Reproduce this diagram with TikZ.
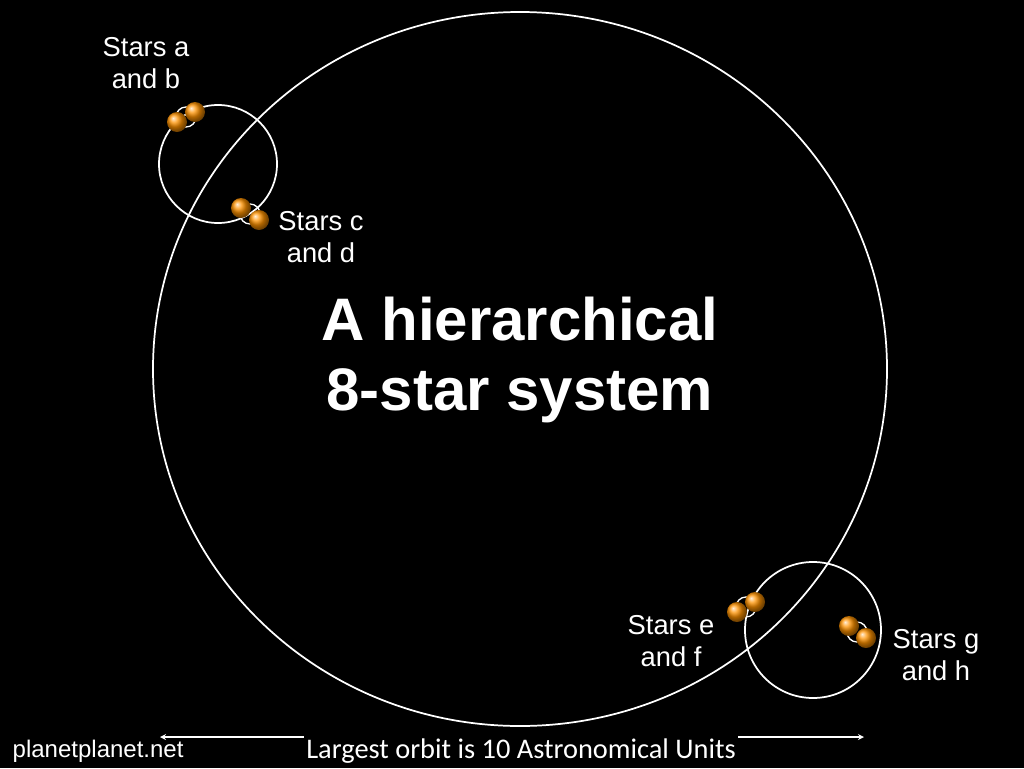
\documentclass[tikz,border=0pt]{standalone}
\usepackage{fontspec}
\setmainfont{Liberation Sans}
\newfontfamily\gillfont{Carlito}
\begin{document}
\begin{tikzpicture}[x=0.75pt,y=-0.75pt,
  orbit/.style={draw=white,line width=1.3pt},
  star/.style={circle,minimum size=15pt,inner sep=0pt,ball color=orange,shading=ball},
  lbl/.style={text=white,align=center,font=\fontsize{20.5}{24}\selectfont}]
\fill[black] (0,0) rectangle (1024,768);
\useasboundingbox (0,0) rectangle (1024,768);
\colorlet{sunc}{orange!85!yellow}
\tikzset{star/.append style={ball color=sunc}}
\draw[orbit] (520,369) ellipse [x radius=367,y radius=357];
\draw[orbit] (218,164) circle [radius=59];
\draw[orbit] (813,630) circle [radius=68];
\draw[orbit,line width=1pt] (186,117) circle [radius=10];
\draw[orbit,line width=1pt] (250,214) circle [radius=10];
\draw[orbit,line width=1pt] (746,607) circle [radius=10];
\draw[orbit,line width=1pt] (857,632) circle [radius=10];
\node[star] (a) at (177,122) {};
\node[star] (b) at (195,112) {};
\node[star] (c) at (241,208) {};
\node[star] (d) at (259,220) {};
\node[star] (e) at (737,612) {};
\node[star] (f) at (755,602) {};
\node[star] (g) at (849,626) {};
\node[star] (h) at (866,638) {};
\node[lbl] (lab) at (146,63) {Stars a\\and b};
\node[lbl] (lcd) at (321,237) {Stars c\\and d};
\node[lbl] (lef) at (671,641) {Stars e\\and f};
\node[lbl] (lgh) at (936,655) {Stars g\\and h};
\node[text=white,align=center,font=\bfseries\fontsize{45}{53}\selectfont] (title) at (520,360) {A hierarchical\\8-star system};
\coordinate (l) at (160,737);
\coordinate (r) at (864,737);
\draw[white,line width=1pt,<->,>=stealth] (l) -- (r);
\node[fill=black,text=white,font=\gillfont\fontsize{21.3}{24}\selectfont,inner sep=2pt] (cap) at (521,751) {Largest orbit is 10 Astronomical Units};
\node[text=white,anchor=west,font=\fontsize{18}{21}\selectfont] (web) at (8,751) {planetplanet.net};
\end{tikzpicture}
\end{document}
